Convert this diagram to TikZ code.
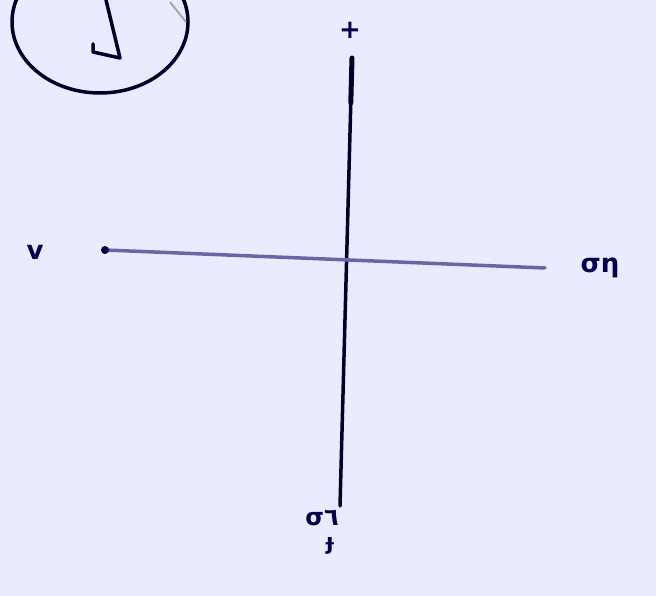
\documentclass[tikz,border=0pt]{standalone}
\usepackage{fontspec}
\newfontfamily\lblfont{DejaVu Sans}
\usetikzlibrary{calc}
\begin{document}
\begin{tikzpicture}[x=1pt,y=-1pt,
  ink/.style={draw=black!75!blue!70!black, line cap=round, line join=round},
  lbl/.style={text=black!60!blue!80!black, font=\lblfont\bfseries\fontsize{26}{26}\selectfont, inner sep=1pt}]
\fill[blue!8!white] (0,0) rectangle (656,596);
\useasboundingbox (0,0) rectangle (656,596);
\begin{scope}
\clip (0,0) rectangle (656,596);
\draw[ink, line width=3.5pt] (100,22) ellipse [x radius=88, y radius=71];
\draw[ink, line width=3.5pt] (106,0) -- (120,58) -- (93,52) -- (93,44);
\draw[line width=2pt, black!35] (170,2) -- (186,22);
\end{scope}
\node[lbl] (top) at (350,30) {+};
\node[lbl] (left) at (35,252) {v};
\node[lbl] (right) at (600,268) {ση};
\node[lbl, font=\lblfont\bfseries\fontsize{24}{24}\selectfont] (bot) at (322,518) {σ٦};
\node[lbl, font=\lblfont\bfseries\fontsize{22}{22}\selectfont] (bot2) at (330,546) {ɟ};
\coordinate (vt) at (352,58);
\coordinate (vb) at (340,506);
\coordinate (hl) at (105,250);
\coordinate (hr) at (545,268);
\draw[ink, line width=3.5pt] (vt) -- (vb);
\draw[ink, line width=5pt] (vt) -- ($(vt)!0.1!(vb)$);
\draw[draw=black!55!blue!60, line width=3.5pt, line cap=round] (hl) -- (hr);
\fill[black!70!blue] (hl) circle (4pt);
\end{tikzpicture}
\end{document}
